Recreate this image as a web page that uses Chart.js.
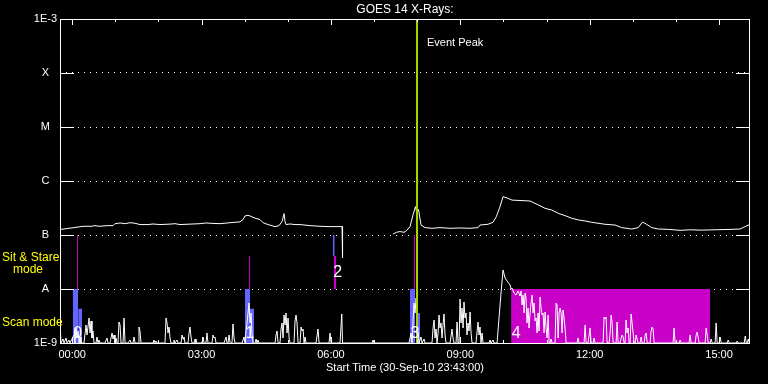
<!DOCTYPE html>
<html>
<head>
<meta charset="utf-8">
<title>GOES 14 X-Rays</title>
<script src="https://cdn.jsdelivr.net/npm/chart.js@4.4.0/dist/chart.umd.min.js"></script>
<style>
  html, body { margin: 0; padding: 0; background: #000; }
  #chart { display: block; }
</style>
</head>
<body>
<canvas id="chart" width="768" height="384"></canvas>
<script>
// time axis: minutes after 00:00 UT on 01-Oct-10 (plot starts 30-Sep-10 23:43)
var timeMin = -17;
var timeMax = 943;
var xTickValues = [0, 180, 360, 540, 720, 900];
var xTickLabels = ['00:00', '03:00', '06:00', '09:00', '12:00', '15:00'];
var yTickValues = [1e-9, 1e-8, 1e-7, 1e-6, 1e-5, 1e-4, 1e-3];
var yTickLabels = ['1E-9', 'A', 'B', 'C', 'M', 'X', '1E-3'];

// GOES 14 long channel flux, [minute, W/m^2]  (null = data gap)
var goesFlux = [
  [-17.0,1.28e-7],[-12.8,1.28e-7],[-8.6,1.31e-7],[2.5,1.37e-7],[15.0,1.45e-7],[27.5,1.45e-7],
  [30.3,1.49e-7],[38.7,1.45e-7],[48.4,1.49e-7],[56.8,1.49e-7],[59.5,1.62e-7],[66.5,1.67e-7],
  [73.5,1.62e-7],[80.4,1.69e-7],[87.4,1.65e-7],[94.3,1.56e-7],[105.4,1.56e-7],[112.4,1.60e-7],
  [122.0,1.56e-7],[136.1,1.59e-7],[143.0,1.62e-7],[150.0,1.56e-7],[163.9,1.59e-7],[177.8,1.62e-7],
  [186.1,1.67e-7],[191.7,1.65e-7],[205.6,1.62e-7],[219.6,1.69e-7],[233.5,1.75e-7],[237.7,1.93e-7],
  [240.4,2.25e-7],[244.6,2.32e-7],[247.4,2.25e-7],[254.4,2.05e-7],[261.3,1.93e-7],[265.5,1.69e-7],
  [272.4,1.56e-7],[282.2,1.43e-7],[287.7,1.49e-7],[291.9,1.77e-7],[294.7,2.49e-7],[296.1,1.77e-7],
  [297.5,1.56e-7],[303.1,1.60e-7],[310.0,1.56e-7],[317.0,1.56e-7],[330.9,1.49e-7],[344.8,1.45e-7],
  [358.7,1.43e-7],[372.6,1.43e-7],[375.4,1.43e-7],[376.1,3.8e-8],[400.0,null],
  [446.3,1.04e-7],[451.0,1.12e-7],[456.1,1.16e-7],[461.6,1.12e-7],[465.0,1.20e-7],[470.0,1.43e-7],
  [474.2,2.37e-7],[477.6,3.35e-7],[479.5,2.55e-7],[481.8,2.97e-7],[485.3,1.53e-7],[490.9,1.37e-7],
  [500.6,1.33e-7],[511.7,1.37e-7],[525.7,1.33e-7],[539.6,1.35e-7],[553.5,1.33e-7],[564.6,1.37e-7],
  [567.4,1.53e-7],[578.5,1.58e-7],[585.5,1.72e-7],[590.0,2.18e-7],[595.2,3.35e-7],[599.4,5.14e-7],
  [606.4,4.77e-7],[611.9,4.43e-7],[637.0,4.26e-7],[648.8,3.59e-7],[657.9,3.12e-7],[667.2,2.90e-7],
  [676.3,2.52e-7],[685.7,2.28e-7],[695.0,2.04e-7],[704.2,1.90e-7],[713.5,1.82e-7],[722.8,1.72e-7],
  [741.3,1.58e-7],[755.2,1.53e-7],[764.5,1.37e-7],[778.4,1.29e-7],[787.6,1.37e-7],[793.2,1.72e-7],
  [796.9,1.65e-7],[806.3,1.37e-7],[815.5,1.29e-7],[830.0,1.27e-7],[845.8,1.22e-7],[860.0,1.25e-7],
  [875.0,1.23e-7],[895.0,1.25e-7],[915.3,1.27e-7],[929.2,1.29e-7],[936.1,1.43e-7],[943.0,1.58e-7]
];

// XRT count rate in the lower panel, [minute, counts]
var xrtRate = [
  [-17.0,20],[-15.6,0],[-12.8,4],[-11.4,0],[-8.6,5],[-7.2,0],[-4.5,3],[-3.1,0],
  [2.5,8],[3.9,0],[5.3,15],[6.7,5],[8.1,12],[9.5,0],[10.9,6],[12.2,0],
  [16.4,0],[19.2,18],[20.6,8],[23.4,25],[24.8,10],[26.2,22],[27.5,5],[28.9,12],[30.3,0],
  [33.1,0],[34.5,6],[35.9,0],[37.3,3],[38.7,0],
  [45.6,0],[48.4,5],[49.8,0],[52.6,0],[55.4,10],[56.8,4],[58.2,8],[59.5,0],[60.9,5],[62.3,0],
  [63.7,0],[65.1,21],[66.5,18],[67.9,0],[70.7,0],[72.1,25],[73.5,0],
  [77.6,0],[80.4,3],[81.8,0],[84.6,0],[86.0,6],[87.4,0],
  [91.6,0],[92.9,16],[94.3,12],[95.7,0],
  [112.4,0],[113.8,3],[115.2,0],[116.6,2],[118.0,0],
  [129.1,0],[130.5,25],[131.9,20],[133.3,10],[134.7,16],[136.1,5],[137.5,0],
  [140.3,0],[141.6,3],[143.0,0],[145.8,3],[147.2,0],[151.4,0],[152.8,8],[154.2,4],[155.5,6],[156.9,0],
  [161.1,0],[162.5,10],[163.9,16],[165.3,6],[166.7,0],[169.5,0],[170.9,4],[172.2,0],
  [180.6,0],[182.0,6],[183.4,0],[186.1,0],[187.5,10],[188.9,0],
  [194.5,0],[195.9,8],[197.3,5],[198.7,6],[200.1,0],
  [211.2,0],[214.0,6],[215.4,0],[216.8,0],[218.2,8],[219.6,0],
  [222.3,0],[223.7,19],[225.1,5],[226.5,0],
  [236.3,0],[239.1,6],[240.4,0],[241.8,12],[243.2,20],[244.6,30],[246.0,40],[247.4,20],[248.8,30],[250.2,8],[251.6,0],
  [254.4,0],[255.8,4],[257.1,0],[258.5,3],[259.9,0],
  [282.2,0],[283.6,8],[285.0,12],[286.4,0],[289.1,0],[290.5,14],[291.9,20],[293.3,5],[294.7,28],[296.1,18],
  [297.5,30],[298.9,10],[300.3,25],[301.7,5],[303.1,0],
  [308.6,0],[310.0,22],[311.4,28],[312.8,20],[314.2,0],[317.0,0],[318.4,16],[319.8,12],[321.2,14],[322.6,0],[323.9,6],[325.3,0],
  [339.2,0],[342.0,14],[343.4,0],[357.3,0],[358.7,10],[360.1,0],[372.6,0],[375.0,29],[376.1,0],
  [417.1,0],[418.5,3],[419.9,0],
  [468.6,0],[471.4,10],[472.8,0],[474.2,22],[475.6,40],[477.0,30],[478.4,45],[479.7,25],[481.1,10],[482.5,0],
  [485.3,6],[486.7,0],[489.5,4],[490.9,0],
  [500.6,0],[502.0,15],[503.4,23],[504.8,5],[506.2,14],[507.6,0],[509.0,10],[510.4,28],[511.7,15],[513.1,20],
  [514.5,5],[515.9,18],[517.3,29],[518.7,8],[520.1,0],
  [525.7,0],[528.4,14],[529.8,5],[531.2,0],[534.0,0],[535.4,21],[536.8,0],
  [538.2,0],[539.6,44],[541.0,20],[542.4,35],[543.8,15],[545.1,41],[546.5,25],[547.9,30],[549.3,8],[550.7,20],
  [552.1,12],[553.5,31],[554.9,10],[556.3,0],
  [561.8,0],[564.6,21],[566.0,8],[567.4,16],[568.8,0],[570.2,10],[571.6,0],
  [579.9,0],[581.3,3],[582.7,0],[585.5,3],[586.9,0],
  [591.1,0],[593.8,25],[596.6,50],[599.4,73],[602.2,65],[605.0,62],[609.2,58],[610.6,54],[611.9,55],[614.7,50],
  [617.5,48],[620.3,52],[623.1,47],[624.5,52],[625.9,38],[627.3,48],[628.7,30],[630.1,50],[631.4,45],[632.8,20],
  [634.2,35],[635.6,15],[637.0,30],[638.4,40],[639.8,48],[641.2,30],[642.6,40],[644.0,22],[645.4,25],[646.8,10],
  [648.1,30],[649.5,12],[650.9,46],[652.3,35],[653.7,28],[655.1,30],[656.5,10],[657.9,31],[659.3,15],[660.7,5],
  [662.1,28],[663.5,0],[664.8,0],[666.2,4],[667.6,0],
  [671.8,0],[673.2,40],[674.6,38],[676.0,5],[677.4,30],[678.8,35],[680.2,30],[681.5,10],[682.9,33],[684.3,25],
  [685.7,15],[687.1,0],
  [702.4,0],[703.8,5],[705.2,0],[712.2,0],[713.6,18],[715.0,0],[717.7,0],[720.5,15],[721.9,0],[724.7,0],[726.1,5],[727.5,0],
  [738.6,0],[740.0,26],[741.4,24],[742.8,26],[744.2,0],[747.0,0],[748.4,10],[749.8,28],[751.2,20],[752.6,0],
  [756.7,0],[758.1,21],[759.5,0],
  [762.3,0],[763.7,5],[765.1,8],[766.5,6],[767.9,0],[769.2,0],[770.6,23],[772.0,10],[773.4,15],[774.8,0],
  [776.2,0],[777.6,29],[779.0,20],[780.4,10],[781.8,0],[783.2,0],[784.6,8],[785.9,4],[787.3,0],
  [790.1,0],[791.5,6],[792.9,0],[795.7,0],[797.1,8],[798.5,10],[799.9,0],[804.0,0],[805.4,12],[806.8,16],[808.2,14],[809.6,0],
  [836.0,0],[837.4,15],[838.8,0],[844.4,0],[845.8,3],[847.2,0],
  [858.3,0],[859.7,8],[861.1,0],[866.7,0],[868.1,8],[869.5,11],[870.8,6],[872.2,0],
  [880.6,0],[882.0,15],[883.4,8],[884.8,0],[887.6,0],[889.0,4],[890.4,0],
  [894.5,0],[895.9,20],[897.3,0],[900.1,0],[901.5,6],[902.9,0],
  [911.3,0],[912.7,3],[914.1,0],[923.8,0],[925.2,2],[926.6,0],
  [935.0,0],[936.4,7],[937.8,0],[939.2,0],[940.6,4],[942.0,0],[943.0,0]
];

// scan mode blocks (blue): start, end (minutes), low, high (flux level)
var scanStart = [0.7, 8.3, 240.4, 247.4, 362.4, 470.0, 480.7];
var scanEnd   = [8.3, 13.6, 247.4, 253.0, 365.2, 477.0, 483.9];
var scanLow   = [1e-9, 1e-9, 1e-9, 1e-9, 4.1e-8, 1e-9, 1e-9];
var scanHigh  = [1e-8, 4.3e-9, 1e-8, 4.3e-9, 1e-7, 1e-8, 3.6e-9];

// sit & stare blocks (magenta)
var sitStart = [6.6, 246.0, 363.8, 475.1, 610.6];
var sitEnd   = [8.0, 247.4, 367.4, 477.0, 887.6];
var sitLow   = [1e-8, 1e-8, 1e-8, 1e-8, 1e-9];
var sitHigh  = [1e-7, 4.1e-8, 4.1e-8, 1e-7, 1e-8];

// observation numbers
var obsNames = ['0', '1', '2', '3', '4'];
var obsTimes = [0.7, 240.4, 362.4, 470.0, 610.6];
var obsLevel = [1.5e-9, 1.5e-9, 2e-8, 1.5e-9, 1.5e-9];

var eventPeak = 479.7; // 07:59.7

Chart.defaults.font.family = '"Liberation Sans", Arial, sans-serif';
Chart.defaults.color = '#ffffff';

function toPoints(pairs) {
  return pairs.map(function (p) { return { x: p[0], y: p[1] }; });
}

var datasets = [];
datasets.push({
  label: 'event', data: [{ x: eventPeak, y: 1e-9 }, { x: eventPeak, y: 1e-3 }],
  borderColor: '#a4d400', borderWidth: 2, pointRadius: 0, order: 0
});
datasets.push({
  label: 'GOES', data: toPoints(goesFlux), borderColor: '#ffffff', borderWidth: 1,
  pointRadius: 0, spanGaps: false, order: 1
});
datasets.push({
  label: 'XRT', data: toPoints(xrtRate), yAxisID: 'y2', borderColor: '#ffffff', borderWidth: 1,
  pointRadius: 0, order: 1
});
for (var i = 0; i < scanStart.length; i++) {
  datasets.push({
    label: 'scan' + i, data: [{ x: scanStart[i], y: scanHigh[i] }, { x: scanEnd[i], y: scanHigh[i] }],
    borderWidth: 0, borderColor: 'rgba(0,0,0,0)', pointRadius: 0,
    backgroundColor: '#6464ff', fill: { value: scanLow[i] }, order: 2
  });
}
for (var j = 0; j < sitStart.length; j++) {
  datasets.push({
    label: 'sit' + j, data: [{ x: sitStart[j], y: sitHigh[j] }, { x: sitEnd[j], y: sitHigh[j] }],
    borderWidth: 0, borderColor: 'rgba(0,0,0,0)', pointRadius: 0,
    backgroundColor: '#c800c8', fill: { value: sitLow[j] }, order: 2
  });
}

// frame, inner ticks and annotation texts
var overlay = {
  id: 'overlay',
  beforeDraw: function (chart) {
    var ctx = chart.ctx;
    ctx.save();
    ctx.fillStyle = '#000';
    ctx.fillRect(0, 0, chart.width, chart.height);
    ctx.restore();
  },
  afterDraw: function (chart) {
    var ctx = chart.ctx, a = chart.chartArea;
    var xs = chart.scales.x, ys = chart.scales.y;
    ctx.save();
    ctx.strokeStyle = '#ffffff';
    ctx.lineWidth = 1;
    ctx.beginPath();
    ctx.rect(a.left + 0.5, a.top + 0.5, a.right - a.left - 1, a.bottom - a.top);
    yTickValues.forEach(function (v) {
      var py = Math.round(ys.getPixelForValue(v)) + 0.5;
      ctx.moveTo(a.left, py); ctx.lineTo(a.left + 14, py);
      ctx.moveTo(a.right - 14, py); ctx.lineTo(a.right, py);
    });
    for (var m = 0; m <= timeMax; m += 60) {
      var px = Math.round(xs.getPixelForValue(m)) + 0.5;
      var len = (m % 180 === 0) ? 6 : 3;
      ctx.moveTo(px, a.top); ctx.lineTo(px, a.top + len);
      ctx.moveTo(px, a.bottom); ctx.lineTo(px, a.bottom - len);
    }
    ctx.stroke();

    ctx.fillStyle = '#ffffff';
    ctx.font = '16px "Liberation Sans", Arial, sans-serif';
    ctx.textAlign = 'center';
    ctx.textBaseline = 'middle';
    for (var k = 0; k < obsNames.length; k++) {
      ctx.fillText(obsNames[k], xs.getPixelForValue(obsTimes[k]) + 5, ys.getPixelForValue(obsLevel[k]));
    }

    ctx.font = '11px "Liberation Sans", Arial, sans-serif';
    ctx.textAlign = 'left';
    ctx.fillText('Event Peak', xs.getPixelForValue(eventPeak) + 10, a.top + 24);

    ctx.fillStyle = '#ffff00';
    ctx.font = '12px "Liberation Sans", Arial, sans-serif';
    ctx.fillText('Sit & Stare', 2, 258);
    ctx.fillText('mode', 13, 270);
    ctx.fillText('Scan mode', 2, 323);
    ctx.restore();
  }
};

new Chart(document.getElementById('chart'), {
  type: 'line',
  data: { datasets: datasets },
  options: {
    responsive: false,
    animation: false,
    devicePixelRatio: 1,
    events: [],
    layout: { padding: { top: 0, right: 18, bottom: 0, left: 0 } },
    plugins: {
      legend: { display: false },
      tooltip: { enabled: false },
      title: {
        display: true, text: 'GOES 14 X-Rays:', color: '#ffffff', fullSize: false,
        font: { size: 12, weight: 'normal' }, padding: { top: 2, bottom: 2.6 }
      }
    },
    scales: {
      x: {
        type: 'linear', min: timeMin, max: timeMax,
        afterBuildTicks: function (s) { s.ticks = xTickValues.map(function (v) { return { value: v }; }); },
        afterFit: function (s) { s.height = 41; },
        ticks: {
          color: '#ffffff', font: { size: 11 }, padding: 5, autoSkip: false, maxRotation: 0,
          callback: function (v, i) { return xTickLabels[i]; }
        },
        grid: { display: false, drawTicks: false },
        border: { display: false },
        title: {
          display: true, text: 'Start Time (30-Sep-10 23:43:00)', color: '#ffffff',
          font: { size: 11 }, padding: { top: 0, bottom: 9 }
        }
      },
      y: {
        type: 'logarithmic', min: 1e-9, max: 1e-3,
        afterBuildTicks: function (s) { s.ticks = yTickValues.map(function (v) { return { value: v }; }); },
        afterFit: function (s) { s.width = 60; },
        ticks: {
          color: '#ffffff', font: { size: 11 }, padding: 3, crossAlign: 'center', autoSkip: false,
          callback: function (v, i) { return yTickLabels[i]; }
        },
        grid: { color: '#ffffff', lineWidth: 1, drawTicks: false },
        border: { display: false, dash: [1, 5] }
      },
      y2: { type: 'linear', display: false, min: 0, max: 324 }
    }
  },
  plugins: [overlay]
});
</script>
</body>
</html>
